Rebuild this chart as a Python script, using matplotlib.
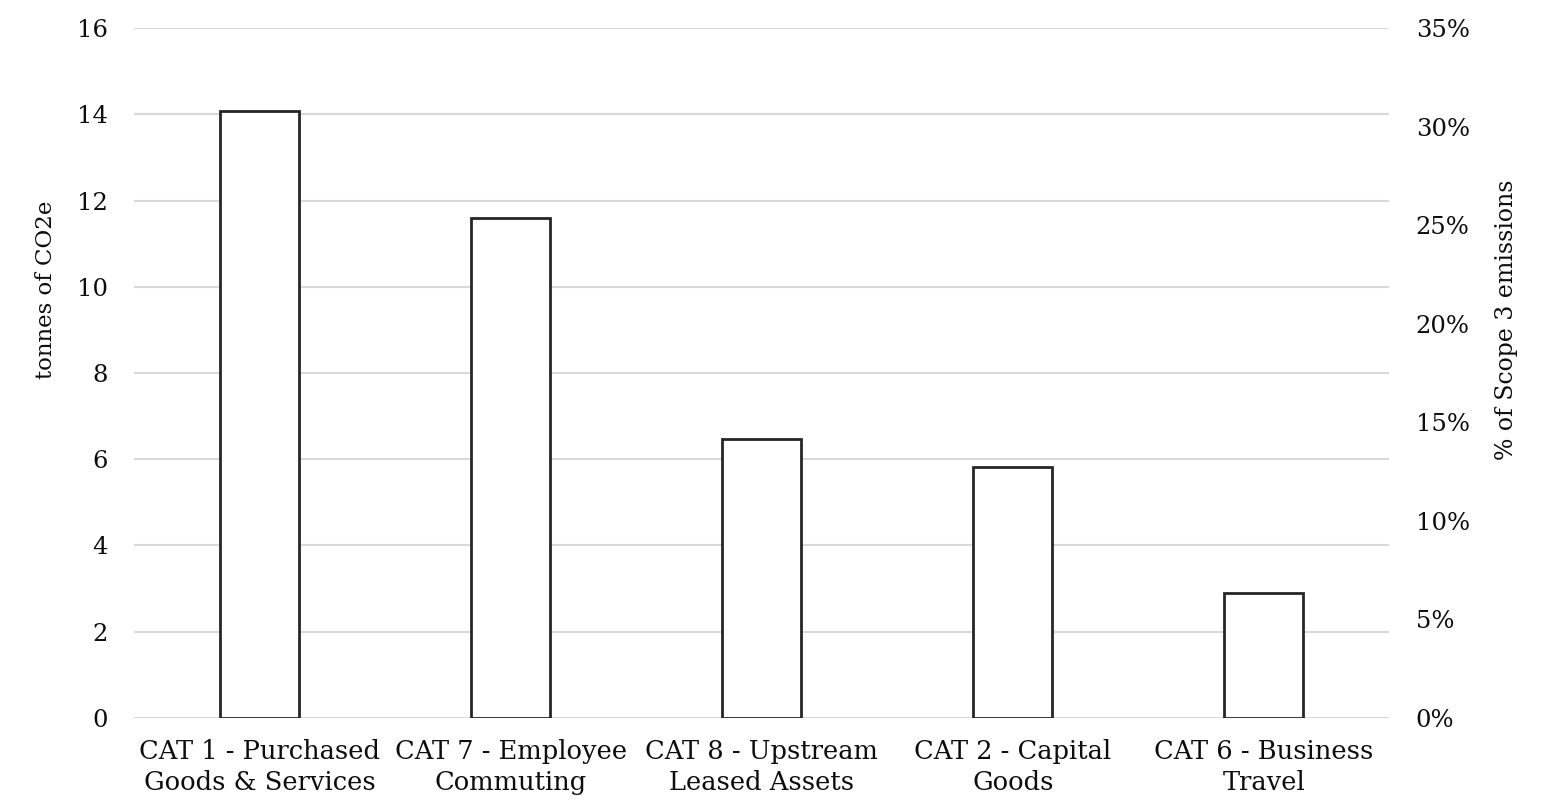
import matplotlib.pyplot as plt
import numpy as np
from matplotlib.ticker import FuncFormatter

plt.rcParams['font.family'] = ['DejaVu Serif']

# scope 3 categories, tonnes CO2e
categories = ['CAT 1 - Purchased\nGoods & Services', 'CAT 7 - Employee\nCommuting',
              'CAT 8 - Upstream\nLeased Assets', 'CAT 2 - Capital\nGoods',
              'CAT 6 - Business\nTravel']
tonnes = [14.07, 11.60, 6.47, 5.81, 2.89]

fig = plt.figure(figsize=(15.49, 8.02), dpi=100)
ax = fig.add_axes([0.0865, 0.105, 0.8105, 0.86])

x = np.arange(len(categories))
ax.bar(x, tonnes, width=0.315, color='white', edgecolor='#262626', linewidth=2, zorder=3)

ax.set_xlim(-0.5, len(categories) - 0.5)
ax.set_ylim(0, 16)
ax.set_yticks(np.arange(0, 17, 2))
ax.grid(axis='y', color='#d9d9d9', linewidth=1.5, zorder=0)
ax.set_xticks(x)
ax.set_xticklabels(categories, fontsize=18.5, color='#0d0d0d', linespacing=1.3)
ax.tick_params(axis='x', length=0, pad=15)
ax.tick_params(axis='y', length=0, pad=19, labelsize=17.5, labelcolor='#0d0d0d')
for s in ax.spines.values():
    s.set_visible(False)
ax.set_ylabel('tonnes of CO2e', fontsize=16.5, color='#0d0d0d')
ax.yaxis.set_label_coords(-0.061, 0.62)

# secondary axis: share of scope 3
ax2 = ax.twinx()
ax2.set_ylim(0, 35)
ax2.set_yticks(np.arange(0, 36, 5))
ax2.yaxis.set_major_formatter(FuncFormatter(lambda v, p: f'{v:.0f}%'))
ax2.tick_params(axis='y', length=0, pad=19, labelsize=17.5, labelcolor='#0d0d0d')
for s in ax2.spines.values():
    s.set_visible(False)
ax2.set_ylabel('% of Scope 3 emissions', fontsize=17, color='#0d0d0d')
ax2.yaxis.set_label_coords(1.084, 0.577)

fig.savefig('out.png', dpi=100)
